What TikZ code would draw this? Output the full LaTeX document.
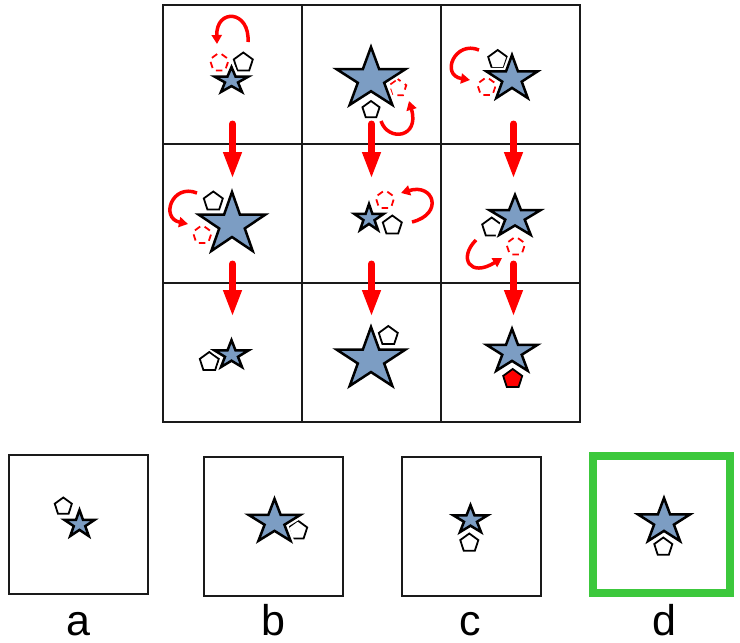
\documentclass[tikz,border=0pt]{standalone}
\usepackage{fontspec}
\setmainfont{Liberation Sans}
\usetikzlibrary{arrows.meta,shapes.geometric}
\definecolor{starblue}{HTML}{7C9DC3}
\definecolor{hint}{HTML}{FF0000}
\definecolor{pick}{HTML}{3CC83C}
\definecolor{ink}{HTML}{1A1A1A}

\tikzset{
  cell/.style={draw=ink, line width=2pt, minimum size=139pt, inner sep=0pt},
  pent/.style={regular polygon, regular polygon sides=5, minimum size=20pt, inner sep=0pt, draw=black, line width=1.8pt, fill=white},
  ghost/.style={pent, draw=hint, fill=none, dash pattern=on 6.5pt off 5.2pt, dash phase=9.1pt},
  starline/.style={fill=starblue, draw=black, line width=2.5pt, preaction={draw=white, line width=7pt, line join=round}},
  pics/pstar/.style 2 args={code={
    \draw[starline] (0,-#2) foreach \k in {1,...,9}{ -- ({#1*ifthenelse(mod(\k,2),0.382,1)*sin(36*\k)},{-#2*ifthenelse(mod(\k,2),0.382,1)*cos(36*\k)}) } -- cycle;
  }},
  flow/.style={hint, line width=7pt, line cap=round, -{Triangle[length=27pt,width=17pt]}},
  turn/.style={hint, line width=3.5pt, -{Triangle[length=9pt,width=10pt]}},
  lbl/.style={anchor=base, inner sep=0pt, font=\fontsize{43}{50}\selectfont}
}

\begin{document}
\begin{tikzpicture}[x=1pt, y=-1pt]
\useasboundingbox (0,0) rectangle (740,643);

% 3x3 grid
\foreach \r in {1,2,3}
  \foreach \c in {1,2,3}
    \node[cell] (c\r\c) at ({93.5+139*\c},{-64.5+139*\r}) {};

% answer boxes
\node[cell] (oa) at (78.5,524.5) {};
\node[cell] (ob) at (273.5,526) {};
\node[cell] (oc) at (471,526.5) {};
\node[cell, draw=pick, line width=8pt, minimum size=137pt] (od) at (661,524.5) {};
\node[lbl] (la) at (78,635) {a};
\node[lbl] (lb) at (273.5,635) {b};
\node[lbl] (lc) at (470,635) {c};
\node[lbl] (ld) at (664,635) {d};

% pentagons
\node[ghost] (g11) at (219.3,62.5) {};
\node[pent] (p11) at (243.3,62.5) {};
\node[pent, minimum size=18pt] (p12) at (371,110) {};
\node[ghost, minimum size=18pt] (g12) at (397.7,88) {};
\node[pent] (p13) at (497.7,60) {};
\node[ghost] (g13) at (486.7,87) {};
\node[pent] (p21) at (213.3,201.5) {};
\node[ghost] (g21) at (202.3,235) {};
\node[pent] (p22) at (392.3,225.5) {};
\node[ghost] (g22) at (385,200) {};
\node[pent] (p23) at (491.7,227.5) {};
\node[ghost] (g23) at (515.7,246.5) {};
\node[pent] (p31) at (209.3,362) {};
\node[pent] (p32) at (388.3,336) {};
\node[pent, fill=hint] (p33) at (512.7,379) {};
\node[pent, minimum size=18pt] (pa) at (63.3,506.5) {};
\node[pent] (pb) at (297.7,530.5) {};
\node[pent, minimum size=19pt] (pc) at (469.3,543) {};
\node[pent, minimum size=19pt] (pd) at (663.3,547) {};

% stars
\pic at (231.5,80.8) {pstar={17.9}{13.8}};
\pic at (371,79) {pstar={36.3}{32}};
\pic at (512,78.8) {pstar={26.8}{23.8}};
\pic at (232,224.6) {pstar={35.2}{32.6}};
\pic at (369,218.4) {pstar={15.3}{14.4}};
\pic at (515,217) {pstar={26.8}{22.1}};
\pic at (231.5,355) {pstar={17.9}{14.9}};
\pic at (371,359.6) {pstar={36.3}{32.6}};
\pic at (512,352) {pstar={26.8}{23.2}};
\pic at (79.5,524.4) {pstar={15.8}{14.4}};
\pic at (274.5,522) {pstar={27.3}{23.2}};
\pic at (470.5,520) {pstar={17.9}{14.9}};
\pic at (664,521.8) {pstar={27.3}{23.8}};

% moves
\draw[turn] (248,42) .. controls (250,10) and (216,8) .. (217,44);
\draw[turn] (381,121) .. controls (388,142) and (420,138) .. (409,101);
\draw[turn] (479,50) .. controls (455,40) and (440,75) .. (470,80);
\draw[turn] (197,193) .. controls (172,183) and (160,218) .. (188,224);
\draw[turn] (412,222) .. controls (444,214) and (434,183) .. (401,193);
\draw[turn] (476,240) .. controls (458,258) and (470,278) .. (502,258);

% row to row
\foreach \c/\dx in {1/0,2/0,3/3} {
  \draw[flow] ([xshift=\dx pt, yshift=21pt]c1\c.south) -- ([xshift=\dx pt, yshift=-36pt]c2\c.north);
  \draw[flow] ([xshift=\dx pt, yshift=20pt]c2\c.south) -- ([xshift=\dx pt, yshift=-35pt]c3\c.north);
}
\end{tikzpicture}
\end{document}
